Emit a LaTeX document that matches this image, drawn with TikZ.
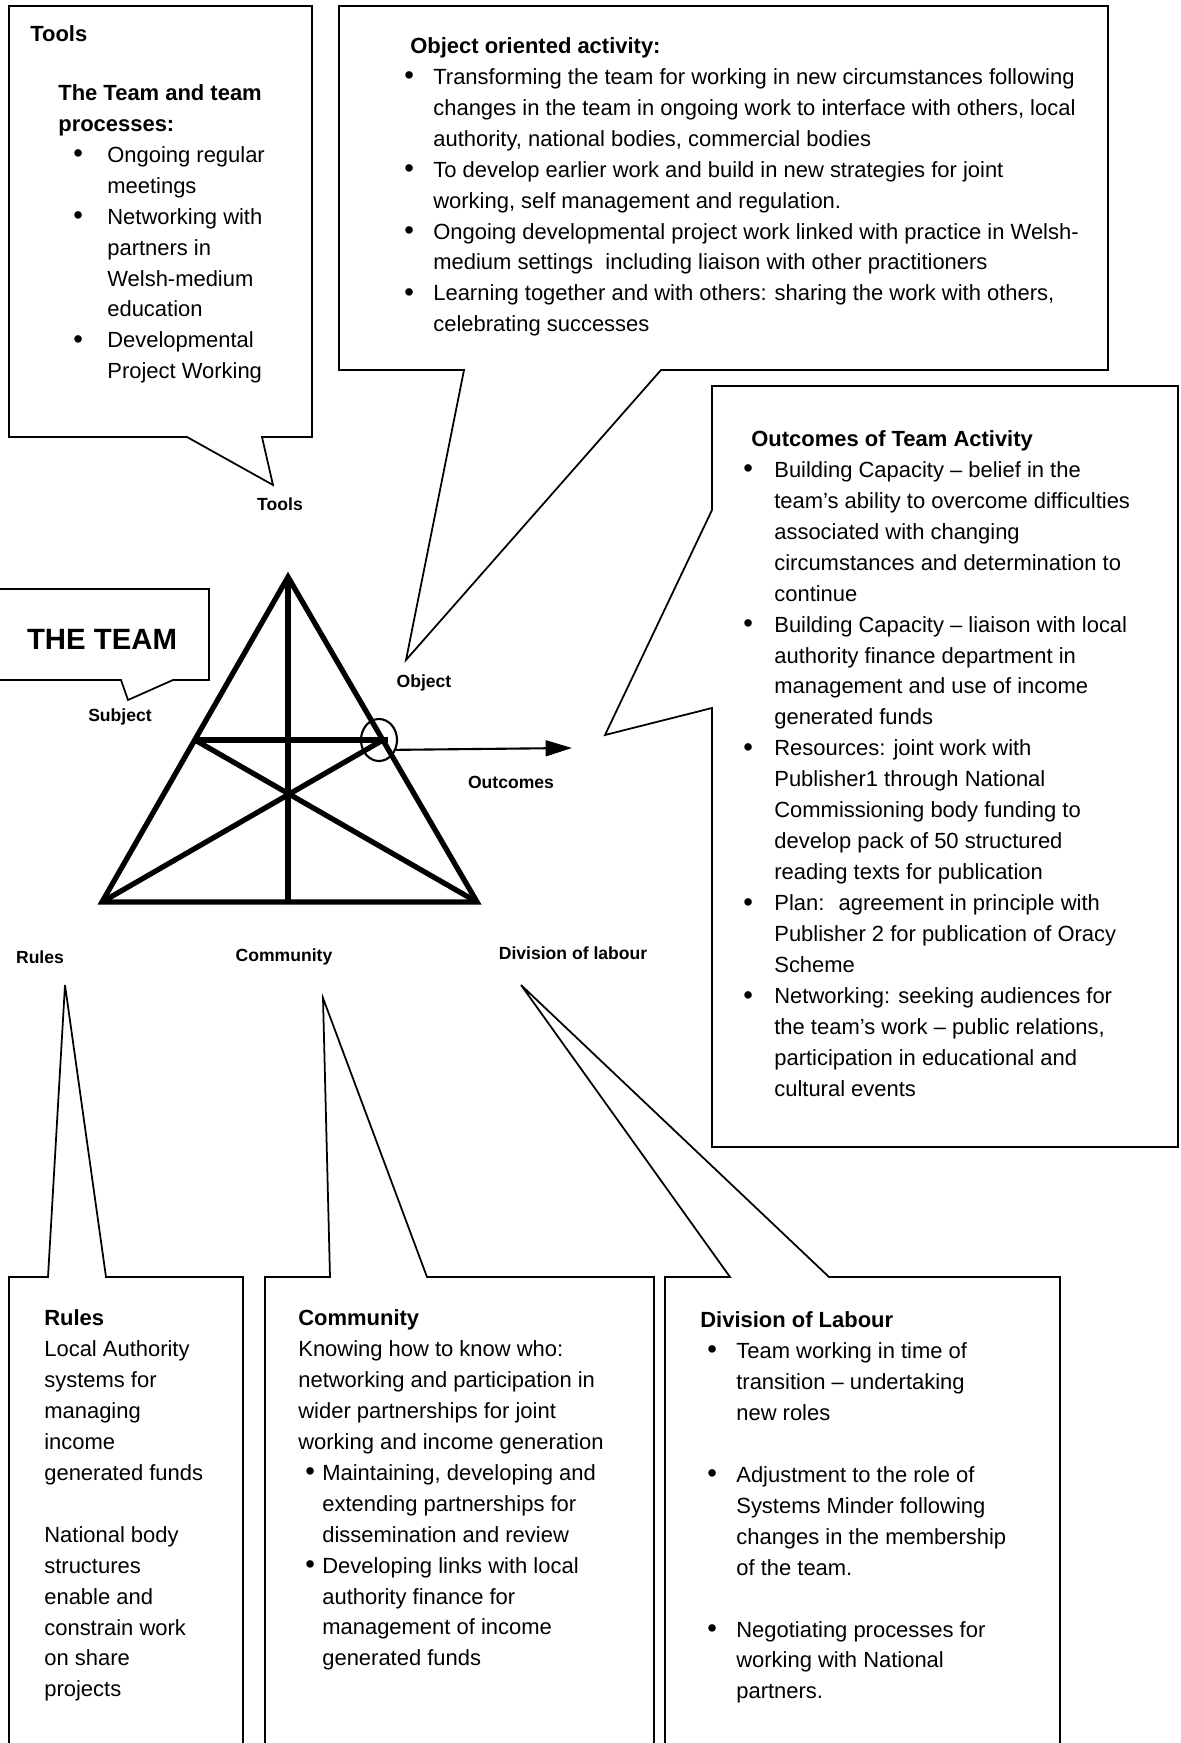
\documentclass[tikz,border=0pt]{standalone}
\usepackage{graphicx}
\usepackage{fontspec}
\setmainfont{Liberation Sans}
\usetikzlibrary{arrows.meta,shapes.geometric}
\newlength{\px}\setlength{\px}{0.02cm}
\newcommand{\bodyfont}{\fontsize{12.5}{17.64}\selectfont}
\newcommand{\tagfont}{\fontsize{10}{12}\selectfont\bfseries}
\newcommand{\gap}[1]{\hspace*{#1\px}}
\newcommand{\dotitem}[1]{\makebox[#1\px][l]{\raisebox{-0.3pt}{\scalebox{1.25}{\textbullet}}}}

\begin{document}
\begin{tikzpicture}[x=0.02cm,y=-0.02cm,
    callout/.style={draw,line width=1pt,line join=miter},
    body/.style={anchor=north west,inner sep=0pt,align=left,font=\bodyfont},
    tag/.style={inner sep=0pt,font=\tagfont},
    tri/.style={line width=3pt},
    >={Triangle[length=15pt,width=9pt]}
]
\useasboundingbox (0,0) rectangle (1180,1743);
\clip (0,0) rectangle (1180,1743);

% speech boxes
\draw[callout] (187,437) -- (9,437) -- (9,6) -- (312,6) -- (312,437) -- (262,437) -- (273,485) -- cycle;
\draw[callout] (464,370) -- (339,370) -- (339,6) -- (1108,6) -- (1108,370) -- (661,370) -- (406,660) -- cycle;
\draw[callout] (712,510) -- (712,386) -- (1178,386) -- (1178,1147) -- (712,1147) -- (712,708) -- (605,735) -- cycle;
\draw[callout] (121,680) -- (-5,680) -- (-5,589) -- (209,589) -- (209,680) -- (173,680) -- (128,700) -- cycle;
\draw[callout] (9,1760) -- (9,1277) -- (48,1277) -- (65,985) -- (106,1277) -- (243,1277) -- (243,1760);
\draw[callout] (265,1760) -- (265,1277) -- (330,1277) -- (323,998) -- (427,1277) -- (654,1277) -- (654,1760);
\draw[callout] (665,1760) -- (665,1277) -- (730,1277) -- (521,985) -- (829,1277) -- (1060,1277) -- (1060,1760);

% activity triangle
\coordinate (apex) at (288,577);
\coordinate (lft) at (102,902);
\coordinate (rgt) at (477,902);
\coordinate (base) at (288,902);
\coordinate (ml) at (195,740);
\coordinate (mr) at (383,740);
\coordinate (mrx) at (388,740);
\draw[tri] (lft) -- (apex) -- (rgt) -- cycle;
\draw[tri] (apex) -- (base);
\draw[tri] (ml) -- (mrx);
\draw[tri] (lft) -- (mr);
\draw[tri] (rgt) -- (ml);
\node[draw,ellipse,line width=1.2pt,minimum width=36\px,minimum height=42\px,inner sep=0pt] (ring) at (379,740) {};
\coordinate (outend) at (572,748);
\draw[->,line width=1.2pt] (ring.-30) -- (outend);

% labels
\node[font=\fontsize{16.7}{20}\selectfont\bfseries,inner sep=0pt] (team) at (102,639) {THE TEAM};
\node[tag] (toolstag) at (280,504) {Tools};
\node[tag] (subjtag) at (120,717) {Subject};
\node[tag] (objtag) at (424,683) {Object};
\node[tag] (outtag) at (511,782) {Outcomes};
\node[tag] (rulestag) at (40,957) {Rules};
\node[tag] (commtag) at (284,957) {Community};
\node[tag] (divtag) at (573,953) {Division of labour};

% box texts
\node[body] (toolshead) at (30,19) {\strut\textbf{Tools}};
\node[body] (toolstext) at (58,78) {\strut\textbf{The Team and team}\\
\textbf{processes:}\\
\gap{15}\dotitem{34}Ongoing regular\\
\gap{49}meetings\\
\gap{15}\dotitem{34}Networking with\\
\gap{49}partners in\\
\gap{49}Welsh-medium\\
\gap{49}education\\
\gap{15}\dotitem{34}Developmental\\
\gap{49}Project Working};
\node[body] (objtext) at (404,31) {\strut\gap{6}\textbf{Object oriented activity:}\\
\dotitem{29}Transforming the team for working in new circumstances following\\
\gap{29}changes in the team in ongoing work to interface with others, local\\
\gap{29}authority, national bodies, commercial bodies\\
\dotitem{29}To develop earlier work and build in new strategies for joint\\
\gap{29}working, self management and regulation.\\
\dotitem{29}Ongoing developmental project work linked with practice in Welsh-\\
\gap{29}medium settings \ including liaison with other practitioners\\
\dotitem{29}Learning together and with others: sharing the work with others,\\
\gap{29}celebrating successes};
\node[body] (outtext) at (743,424) {\strut\gap{8}\textbf{Outcomes of Team Activity}\\
\dotitem{31}Building Capacity – belief in the\\
\gap{31}team’s ability to overcome difficulties\\
\gap{31}associated with changing\\
\gap{31}circumstances and determination to\\
\gap{31}continue\\
\dotitem{31}Building Capacity – liaison with local\\
\gap{31}authority finance department in\\
\gap{31}management and use of income\\
\gap{31}generated funds\\
\dotitem{31}Resources: joint work with\\
\gap{31}Publisher1 through National\\
\gap{31}Commissioning body funding to\\
\gap{31}develop pack of 50 structured\\
\gap{31}reading texts for publication\\
\dotitem{31}Plan: \ agreement in principle with\\
\gap{31}Publisher 2 for publication of Oracy\\
\gap{31}Scheme\\
\dotitem{31}Networking: seeking audiences for\\
\gap{31}the team’s work – public relations,\\
\gap{31}participation in educational and\\
\gap{31}cultural events};
\node[body] (rulestext) at (44,1303) {\strut\textbf{Rules}\\
Local Authority\\
systems for\\
managing\\
income\\
generated funds\\[31\px]
National body\\
structures\\
enable and\\
constrain work\\
on share\\
projects};
\node[body] (commtext) at (298,1303) {\strut\textbf{Community}\\
Knowing how to know who:\\
networking and participation in\\
wider partnerships for joint\\
working and income generation\\
\gap{7}\dotitem{17}Maintaining, developing and\\
\gap{24}extending partnerships for\\
\gap{24}dissemination and review\\
\gap{7}\dotitem{17}Developing links with local\\
\gap{24}authority finance for\\
\gap{24}management of income\\
\gap{24}generated funds};
\node[body] (divtext) at (700,1305) {\strut\textbf{Division of Labour}\\
\gap{7}\dotitem{29}Team working in time of\\
\gap{36}transition – undertaking\\
\gap{36}new roles\\[31\px]
\gap{7}\dotitem{29}Adjustment to the role of\\
\gap{36}Systems Minder following\\
\gap{36}changes in the membership\\
\gap{36}of the team.\\[31\px]
\gap{7}\dotitem{29}Negotiating processes for\\
\gap{36}working with National\\
\gap{36}partners.};
\end{tikzpicture}
\end{document}
